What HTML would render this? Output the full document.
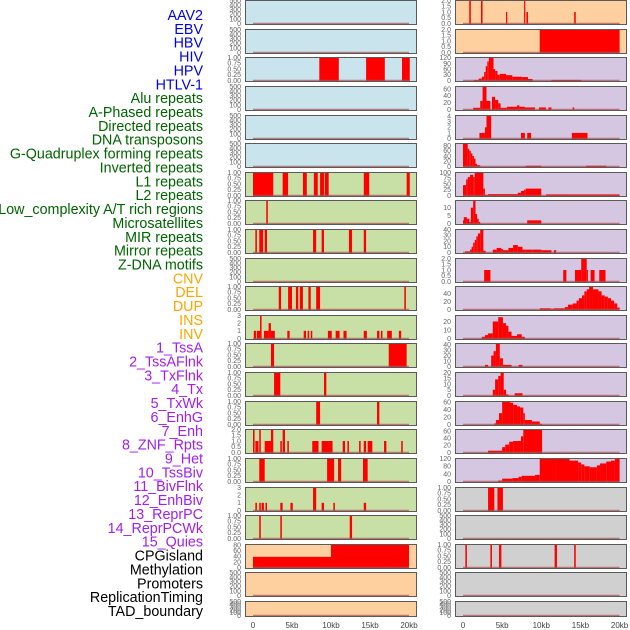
<!DOCTYPE html>
<html><head><meta charset="utf-8"><style>
html,body{margin:0;padding:0;background:#fff;width:630px;height:630px;overflow:hidden}
svg{display:block}
</style></head><body>
<svg id="chart" width="630" height="630" xmlns="http://www.w3.org/2000/svg"></svg>
<script>
const labels = ["AAV2","EBV","HBV","HIV","HPV","HTLV-1","Alu repeats","A-Phased repeats","Directed repeats","DNA transposons","G-Quadruplex forming repeats","Inverted repeats","L1 repeats","L2 repeats","Low_complexity A/T rich regions","Microsatellites","MIR repeats","Mirror repeats","Z-DNA motifs","CNV","DEL","DUP","INS","INV","1_TssA","2_TssAFlnk","3_TxFlnk","4_Tx","5_TxWk","6_EnhG","7_Enh","8_ZNF_Rpts","9_Het","10_TssBiv","11_BivFlnk","12_EnhBiv","13_ReprPC","14_ReprPCWk","15_Quies","CPGisland","Methylation","Promoters","ReplicationTiming","TAD_boundary"];
const labelGroups = [0,0,0,0,0,0,1,1,1,1,1,1,1,1,1,1,1,1,1,2,2,2,2,2,3,3,3,3,3,3,3,3,3,3,3,3,3,3,3,4,4,4,4,4];
const xTickLabels = ["0","5kb","10kb","15kb","20kb"];
const xTickValues = [0,5,10,15,20];

const T01 = [0,0.25,0.5,0.75,1];
const TE = [0,100,200,300,400,500];
const leftTicks = [TE,TE,T01,TE,TE,TE,T01,T01,T01,TE,T01,[0,1,2,3],T01,T01,T01,[0,0.5,1,1.5,2],T01,[0,1,2,3],T01,[0,20,40,60,80],TE,TE];
const leftYMax = [500,500,1,500,500,500,1,1,1,500,1,3,1,1,1,2,1,3,1,82,500,500];
const leftBars = [
 [],[],
 [[8.5,11.0,1],[14.5,16.9,1],[19.1,20.1,1]],
 [],[],[],
 [[0,2.6,1],[3.8,4.5,1],[6.4,6.9,1],[7.8,8.3,1],[8.6,9.1,1],[9.2,9.7,1],[14.2,14.9,1],[19.7,20.1,1]],
 [[1.7,1.9,1]],
 [[0.3,0.5,1],[0.8,1.3,1],[1.5,1.8,1],[7.7,8.1,1],[8.8,9.1,1],[12.3,12.7,1],[14.2,14.5,1]],
 [],
 [[3.3,3.6,1],[4.5,5.0,1],[5.5,5.8,1],[6.0,6.4,1],[7.1,7.4,1],[8.1,8.6,1],[19.4,19.6,1]],
 [[0.1,0.4,1],[0.5,0.9,1],[0.9,1.1,3],[1.4,2.0,1],[2.0,2.3,2],[2.3,2.8,1],[4.4,4.7,1],[6.5,6.8,1],[7.0,7.2,1],[7.4,7.6,1],[9.6,10.1,1],[10.6,11.1,1],[11.6,12.0,1],[14.2,14.6,1],[15.9,16.2,1],[16.4,16.6,1],[17.2,17.8,1],[18.7,19.0,1]],
 [[2.3,2.7,1],[17.4,19.7,1]],
 [[2.7,3.5,1],[9.1,9.4,1]],
 [[8.1,8.6,1],[15.9,16.2,1]],
 [[0,0.2,2],[0.3,0.7,1],[0.8,1.0,2],[1.5,2.3,1],[2.3,2.6,2],[3.5,3.7,1],[3.8,4.1,2],[4.4,4.6,1],[7.6,8.4,1],[8.8,10.2,1],[11.5,11.8,1],[12.1,12.3,1],[13.6,13.8,1],[14.2,14.5,1],[14.7,15.3,1],[16.8,17.1,1],[19.0,19.2,1]],
 [[0.8,1.5,1],[9.5,10.4,1],[10.9,11.3,1],[14.1,14.7,1]],
 [[0.3,0.5,1],[0.8,1.0,1],[1.1,1.4,1],[1.6,1.8,1],[3.5,3.8,1],[4.8,5.1,1],[7.7,8.1,3],[8.8,9.1,1],[10.3,10.5,1],[14.2,14.5,1]],
 [[0.8,1.0,1],[3.5,3.7,1],[12.4,12.7,1]],
 [[0,10,38],[10,20,88]],
 [],[]
];

const rightTicks = [[0,0.5,1,1.5,2],[0,0.5,1,1.5,2],[0,30,60,90,120],[0,20,40,60],[0,1,2,3,4],[0,20,40,60,80],[0,25,50,75,100],[0,5,10],[0,10,20,30,40],[0,0.5,1,1.5,2],[0,20,40],[0,10,20],[0,10,20,30,40],[0,5,10,15,20],[0,20,40,60],[0,20,40,60],[0,40,80,120],T01,TE,T01,TE,TE];
const rightYMax = [2,2,121,67,4.1,88,100,14.5,40,2,57,27,42,20,61,64,121,1,500,1,500,500];
const rightBars = [
 [[0.8,1.0,2],[2.3,2.5,2],[5.5,5.6,1],[7.8,7.9,2],[8.1,8.3,1],[14.2,14.4,1]],
 [[9.8,20,2]],
 [[1.4,2.0,3],[2.0,2.4,10],[2.4,2.7,20],[2.7,2.9,45],[2.9,3.1,75],[3.1,3.3,100],[3.3,3.9,125],[3.9,4.1,60],[4.1,4.4,50],[4.4,4.7,30],[4.7,5.5,35],[5.5,6.3,28],[6.3,7.5,20],[7.5,8.3,18],[8.3,8.9,8],[11.3,15.1,3]],
 [[1.3,2.2,5],[2.2,2.5,25],[2.5,3.0,70],[3.0,3.5,25],[3.7,4.1,37],[4.1,4.5,28],[4.5,4.8,18],[4.8,5.6,5],[5.6,6.9,8],[6.9,7.2,12],[7.2,7.9,8],[7.9,9.2,6],[9.7,10.6,6],[10.9,11.3,6],[14.0,14.2,6]],
 [[2.1,2.8,1],[2.8,3.0,2],[3.0,3.6,4],[7.4,7.9,1],[8.2,8.7,1],[13.9,15.9,1]],
 [[0,0.6,90],[0.6,0.8,68],[0.8,1.0,60],[1.0,1.2,50],[1.2,1.4,40],[1.4,1.6,30],[1.6,1.8,10],[1.8,2.2,5],[8.0,10.0,3],[15.7,18.3,3]],
 [[0,0.4,45],[0.4,0.6,70],[0.6,0.9,80],[0.9,1.3,90],[1.3,1.5,80],[1.5,2.6,100],[2.6,2.8,30],[2.8,3.2,3],[3.2,7.0,6],[7.0,7.4,12],[7.4,7.8,20],[7.8,8.0,25],[8.0,10.0,30],[10.6,20,5]],
 [[0,0.1,2],[0.1,0.5,4],[0.5,0.8,3],[0.8,1.0,1],[1.0,1.3,10],[1.3,1.6,15],[1.6,1.8,6],[1.8,2.0,3],[2.0,2.2,1],[8.2,10.0,2]],
 [[0.25,0.9,2],[0.9,1.1,5],[1.1,1.3,10],[1.3,1.5,17],[1.5,1.7,22],[1.7,1.9,28],[1.9,2.2,33],[2.2,2.6,42],[2.6,2.9,3],[3.8,4.3,5],[4.3,4.9,8],[4.9,5.1,6],[5.1,5.8,4],[5.8,6.4,8],[6.4,7.0,13],[7.0,7.6,10],[7.6,8.0,5],[8.0,8.9,5],[8.9,10.0,5],[10.0,11.3,4],[11.6,11.9,4]],
 [[2.7,3.5,1],[12.8,13.2,1],[14.3,15.1,1],[15.1,15.8,2],[15.8,15.9,1],[16.3,16.8,1],[17.4,18.2,1]],
 [[9.8,11.2,3],[11.2,11.6,2],[11.6,13.0,3],[13.0,13.4,6],[13.4,14.0,12],[14.0,14.5,15],[14.5,14.8,22],[14.8,15.2,28],[15.2,15.5,35],[15.5,15.8,45],[15.8,16.1,50],[16.1,16.6,60],[16.6,17.3,50],[17.3,17.7,45],[17.7,18.1,35],[18.1,18.5,32],[18.5,18.9,28],[18.9,19.3,22],[19.3,19.7,15],[19.7,20,5]],
 [[2.4,2.8,2],[2.8,3.2,4],[3.2,3.8,6],[3.8,4.5,20],[4.5,5.1,25],[5.1,5.5,18],[5.5,5.8,15],[5.8,6.2,8],[6.2,6.9,3],[6.9,7.5,5],[7.5,7.9,2]],
 [[2.8,3.2,3],[3.6,3.9,20],[3.9,4.2,28],[4.2,4.7,45],[4.7,5.1,15],[5.1,6.2,3],[7.1,7.6,3]],
 [[3.8,4.1,5],[4.1,4.5,14],[4.5,4.8,17],[4.8,5.2,20],[5.2,5.5,5],[5.5,5.8,1],[6.6,7.6,2]],
 [[4.0,4.2,3],[4.2,4.6,12],[4.6,5.0,30],[5.0,6.0,62],[6.0,6.4,58],[6.4,6.9,52],[6.9,7.3,48],[7.3,7.7,45],[7.7,7.9,30],[7.9,8.8,12],[8.8,9.8,8],[9.8,10.1,2]],
 [[3.2,5.0,5],[5.0,5.4,15],[5.4,5.9,22],[5.9,6.4,30],[6.4,7.4,32],[7.4,7.7,45],[7.7,10.1,68]],
 [[4.5,5.0,5],[5.0,6.3,15],[6.3,7.1,18],[7.1,7.5,25],[7.5,9.2,30],[9.2,9.8,35],[9.8,12.0,125],[12.0,13.6,122],[13.6,14.7,110],[14.7,15.1,100],[15.1,15.5,90],[15.5,16.2,80],[16.2,17.1,75],[17.1,17.5,85],[17.5,18.3,95],[18.3,18.9,105],[18.9,19.4,110],[19.4,20,120]],
 [[3.2,4.0,1],[4.4,5.1,1]],
 [],
 [[0.3,0.5,1],[3.5,3.7,1],[4.6,4.9,1],[11.7,12.0,1],[14.2,14.4,1]],
 [],[]
];

const NS = "http://www.w3.org/2000/svg";
const svg = document.getElementById("chart");
function mk(tag, attrs){const e=document.createElementNS(NS,tag);for(const k in attrs)e.setAttribute(k,attrs[k]);return e;}

const groupColors = ["#0000ee","#006400","#ffa500","#a020f0","#000000"];
const labelTop = 15, labelStep = 13.86;
labels.forEach((t,i)=>{
  const el = mk("text",{x:203,y:labelTop+i*labelStep+5,"text-anchor":"end","font-size":"14.3","font-family":"Liberation Sans, sans-serif",fill:groupColors[labelGroups[i]]});
  el.textContent = t;
  
  
  svg.appendChild(el);
});

const rowTops = [0,29,57,86,115,143,172,200,229,258,286,315,343,372,401,429,458,487,515,544,572,601];
const leftBg = i => i<6 ? "#c9e4ec" : (i<19 ? "#c8e0a6" : "#fed09f");
const rightBg = i => i<2 ? "#fed09f" : (i<17 ? "#d5c6e2" : "#d0d0d0");

function fmt(ticks, v){
  const mx = ticks[ticks.length-1];
  if (mx===1 && ticks.length===5) return v.toFixed(2);
  if (mx===2 && ticks.length===5) return v.toFixed(1);
  return String(v);
}

function panel(col, i, bars, ticks, ymax){
  const top = rowTops[i];
  const h = i===21 ? 16 : 25;
  const bx = col===0 ? 245 : 455;
  const bw = 172;
  const x0 = col===0 ? 253 : 463;
  const kx = col===0 ? 7.8 : 7.83;
  const xs = kb => x0 + kb*kx;
  const base = top + h - 1.5;
  const span = h - 2;
  const ys = v => Math.max(top, base - v/ymax*span);
  const g = mk("g",{});
  
  
  const bg = mk("rect",{x:bx,y:top,width:bw,height:h,fill:col===0?leftBg(i):rightBg(i)});
  
  
  g.appendChild(bg);
  bars.forEach(b=>{
    const y = ys(b[2]);
    const r = mk("rect",{x:xs(b[0]),y:y,width:Math.max(1.2,xs(b[1])-xs(b[0])),height:base-y+1,fill:"#ff0000"});
    
    
    g.appendChild(r);
  });
  const bl = mk("line",{x1:xs(0),x2:xs(20),y1:base,y2:base,stroke:"#b05050","stroke-width":1.5,"stroke-opacity":0.7});
  
  
  g.appendChild(bl);
  const border = mk("rect",{x:bx+0.5,y:top+0.5,width:bw-1,height:h-1,fill:"none",stroke:"#5a5a5a","stroke-width":1});
  
  
  g.appendChild(border);
  ticks.forEach(v=>{
    const t = mk("text",{x:bx-4,y:ys(v)+2.4,"text-anchor":"end","font-size":"7","font-family":"Liberation Sans, sans-serif",fill:"#666"});
    t.textContent = fmt(ticks, v);
    
    
    g.appendChild(t);
  });
  svg.appendChild(g);
}

for(let i=0;i<22;i++){
  panel(0,i,leftBars[i],leftTicks[i],leftYMax[i]);
  panel(1,i,rightBars[i],rightTicks[i],rightYMax[i]);
}

[0,1].forEach(col=>{
  const x0 = col===0 ? 253 : 463;
  const kx = col===0 ? 7.8 : 7.83;
  xTickValues.forEach((v,j)=>{
    const t = mk("text",{x:x0+v*kx,y:628,"text-anchor":"middle","font-size":"8","font-family":"Liberation Sans, sans-serif",fill:"#444"});
    t.textContent = xTickLabels[j];
    
    
    svg.appendChild(t);
  });
});
</script>
</body></html>
